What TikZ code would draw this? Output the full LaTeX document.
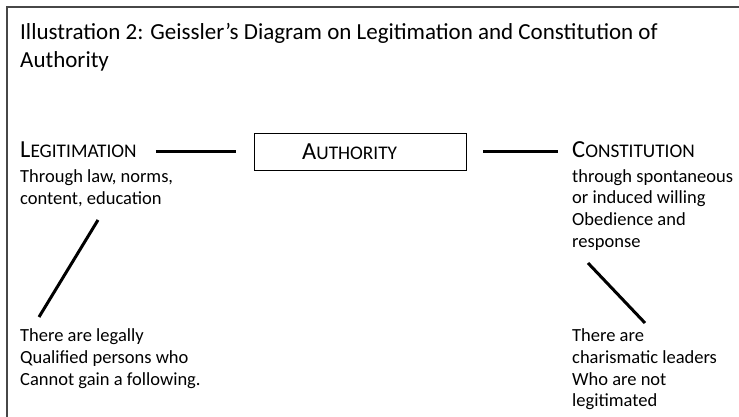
\documentclass[tikz,border=0pt]{standalone}
\usepackage{fontspec}
\setmainfont{Carlito}
\newcommand{\capbig}{\fontsize{24.5}{29}\selectfont}
\newcommand{\capsmall}{\fontsize{19.3}{23}\selectfont}
\tikzset{
  frame/.style={draw=black!72, line width=2pt},
  txt/.style={inner sep=0pt, anchor=base west, align=left, font=\fontsize{18.5}{21.7}\selectfont},
  ttl/.style={inner sep=0pt, anchor=base west, align=left, font=\fontsize{23}{28.5}\selectfont},
  hdr/.style={inner sep=0pt, anchor=base west},
  link/.style={line width=3pt},
  authbox/.style={draw, line width=1.6pt, minimum width=212pt, minimum height=37pt, inner sep=0pt}
}
\begin{document}
\begin{tikzpicture}[x=1pt,y=-1pt]
\useasboundingbox (0,0) rectangle (739,417);
\draw[frame] (739,7) -- (7,7) -- (7,417);
% multi-line nodes: base anchor is the baseline of the last line
\node[ttl] (title) at (20,68) {Illustration 2: Geissler’s Diagram on Legitimation and Constitution of\\Authority};
\node[authbox] (auth) at (360.5,152) {};
\node[hdr] (authtxt) at (302,160) {\capbig A\capsmall UTHORITY};
\node[hdr] (legit) at (20,157.7) {\capbig L\capsmall EGITIMATION};
\node[hdr] (const) at (572,157.7) {\capbig C\capsmall ONSTITUTION};
\node[txt] (legitdesc) at (20,204.2) {Through law, norms,\\content, education};
\node[txt] (constdesc) at (572,247.1) {through spontaneous\\or induced willing\\Obedience and\\response};
\node[txt] (legal) at (20,385.1) {There are legally\\Qualified persons who\\Cannot gain a following.};
\node[txt] (charis) at (572,406.8) {There are\\charismatic leaders\\Who are not\\legitimated};
\draw[link, shorten <=19pt, shorten >=18pt] (legit.east |- auth.west) -- (auth.west);
\draw[link, shorten <=16pt, shorten >=14pt] (auth.east) -- (const.west |- auth.east);
\coordinate (l1) at (98,220);
\coordinate (l2) at (39,317);
\coordinate (r1) at (588,263);
\coordinate (r2) at (645,323);
\draw[link] (l1) -- (l2);
\draw[link] (r1) -- (r2);
\end{tikzpicture}
\end{document}
